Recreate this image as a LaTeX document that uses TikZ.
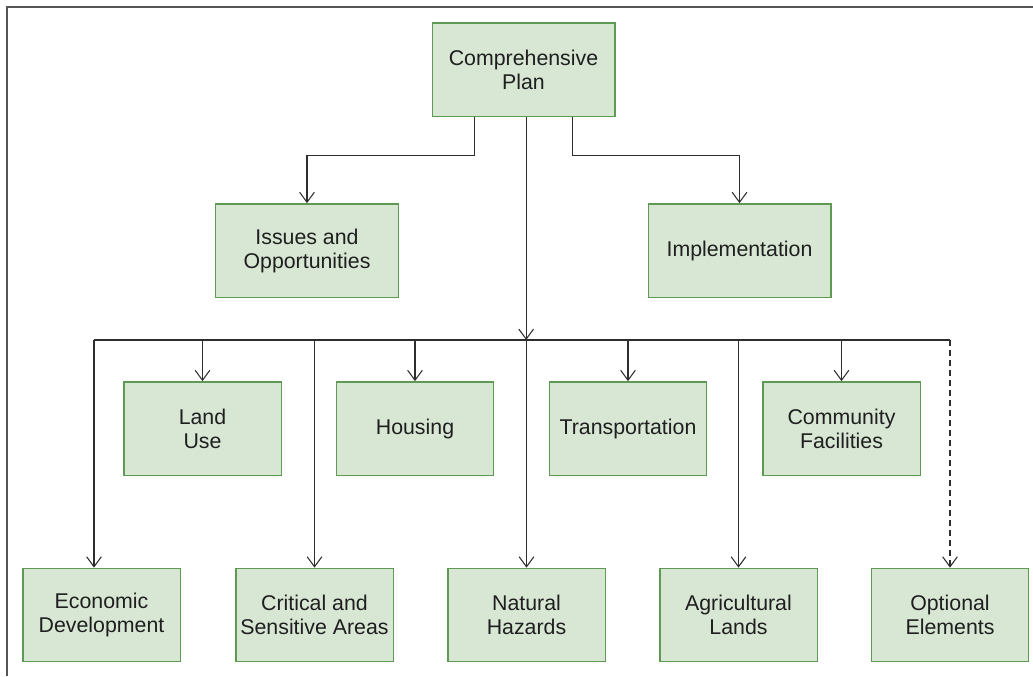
\documentclass[tikz,border=0pt]{standalone}
\usepackage{fontspec}
\setmainfont{Liberation Sans}
\usetikzlibrary{arrows.meta,positioning,calc}
\definecolor{boxfill}{HTML}{D8E6D4}
\definecolor{boxline}{HTML}{5E9A54}
\definecolor{wire}{HTML}{2E2E2E}
\definecolor{framegray}{HTML}{555555}
\begin{document}
\begin{tikzpicture}[x=0.75pt,y=-0.75pt,
  box/.style={draw=boxline,fill=boxfill,line width=1pt,inner sep=0pt,
    align=center,font=\fontsize{16}{18}\selectfont,text=black!88},
  bigbox/.style={box,minimum width=137pt,minimum height=70pt},
  smallbox/.style={box,minimum width=118pt,minimum height=70pt},
  wireline/.style={draw=wire,line width=0.8pt},
  arr/.style={wireline,-{Straight Barb[length=7.5pt,width=11pt,line width=0.8pt]}}]
\useasboundingbox (0,0) rectangle (1033,676);
% page frame (top and left edges)
\draw[framegray,line width=1.6pt] (7,676) -- (7,7) -- (1033,7);

% top level
\node[bigbox] (cp)  at (523.5,69.5)  {Comprehensive\\Plan};
\node[bigbox] (iss) at (307,250.5)   {Issues and\\Opportunities};
\node[bigbox] (imp) at (739.5,250.5) {Implementation};

% middle row
\node[smallbox] (lu)  at (202.5,428.5) {Land\\Use};
\node[smallbox] (hou) at (415,428.5)   {Housing};
\node[smallbox] (tra) at (628,428.5)   {Transportation};
\node[smallbox] (com) at (841.5,428.5) {Community\\Facilities};

% bottom row
\node[smallbox] (eco) at (101.5,615)  {Economic\\Development};
\node[smallbox] (cri) at (314.5,615)  {Critical and\\Sensitive Areas};
\node[smallbox] (nat) at (526.5,615)  {Natural\\Hazards};
\node[smallbox] (agr) at (738.5,615)  {Agricultural\\Lands};
\node[smallbox] (opt) at (950,615)    {Optional\\Elements};

% branches to the top-level elements
\draw[arr] ([xshift=-37pt]cp.south) |- ($(iss.north)+(0,-48)$) -- (iss.north);
\draw[arr] ([xshift=36.5pt]cp.south) |- ($(imp.north)+(0,-48)$) -- (imp.north);

% distribution bus
\coordinate (busL) at (94,340);
\coordinate (busR) at (opt.north |- busL);
\coordinate (trunk) at ([xshift=2pt]cp.south);
\draw[wireline] (busL) -- (busR);
\draw[arr] (trunk) -- (trunk |- busL);

% drops to the elements
\draw[arr] (lu.north |- busL)  -- (lu.north);
\draw[arr] (hou.north |- busL) -- (hou.north);
\draw[arr] (tra.north |- busL) -- (tra.north);
\draw[arr] (com.north |- busL) -- (com.north);
\draw[arr] (busL) -- (busL |- eco.north);
\draw[arr] (cri.north |- busL) -- (cri.north);
\draw[arr] (nat.north |- busL) -- (nat.north);
\draw[arr] (agr.north |- busL) -- (agr.north);
\draw[arr,dash pattern=on 4.5pt off 3pt] (busR) -- (opt.north);
\end{tikzpicture}
\end{document}
